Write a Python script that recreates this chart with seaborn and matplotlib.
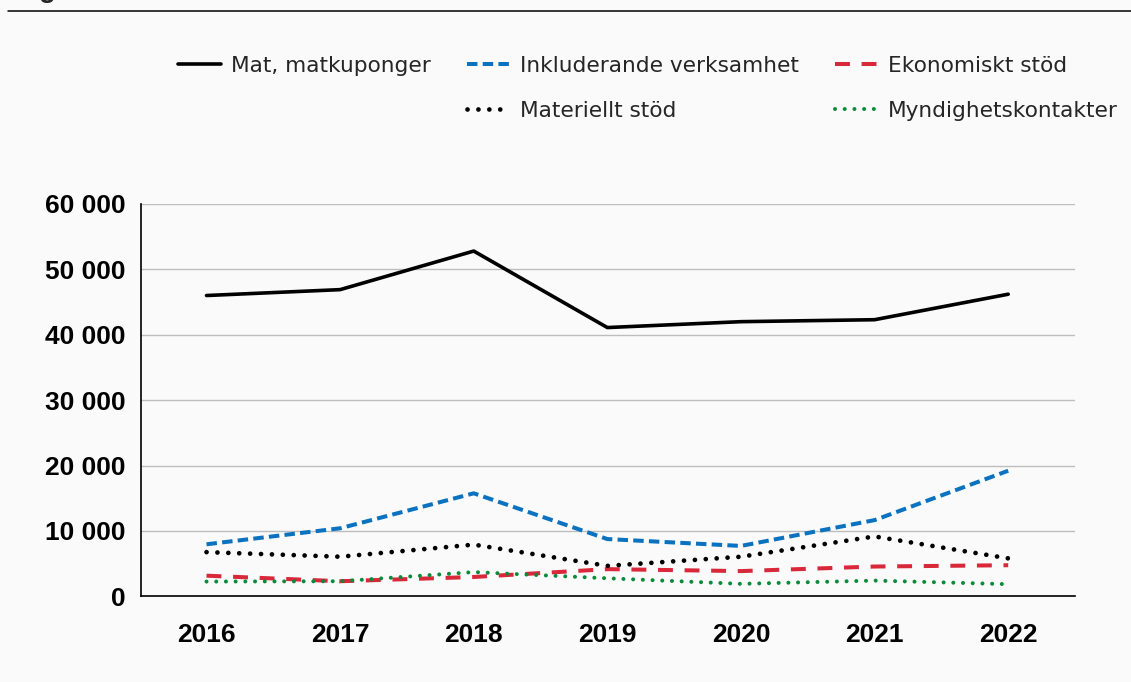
import matplotlib
matplotlib.use("Agg")
import matplotlib.pyplot as plt
import matplotlib.ticker as mticker
from matplotlib.lines import Line2D
import seaborn as sns

years = [2016, 2017, 2018, 2019, 2020, 2021, 2022]
mat = [46000, 46900, 52800, 41100, 42000, 42300, 46200]
inkluderande = [7950, 10400, 15750, 8750, 7700, 11650, 19200]
ekonomiskt = [3150, 2300, 2950, 4150, 3850, 4550, 4750]
materiellt = [6750, 6050, 7900, 4650, 6050, 9150, 5800]
myndighet = [2250, 2300, 3700, 2750, 1900, 2400, 1850]

labels = ["Mat, matkuponger", "Inkluderande verksamhet", "Ekonomiskt stöd",
          "Materiellt stöd", "Myndighetskontakter"]
yticks = [0, 10000, 20000, 30000, 40000, 50000, 60000]

sns.set_theme(style="white")
plt.rcParams['font.family'] = ['Liberation Sans', 'DejaVu Sans']

BG = "#fafafa"
fig = plt.figure(figsize=(11.31, 6.82), dpi=100, facecolor=BG)
ax = fig.add_axes([0.1247, 0.1257, 0.9505 - 0.1247, 0.7009 - 0.1257])
ax.set_facecolor(BG)

sns.lineplot(x=years, y=mat, ax=ax, color="black", lw=2.6,
             label=labels[0], solid_capstyle="round")
sns.lineplot(x=years, y=inkluderande, ax=ax, color="#0a72be", lw=2.9,
             dashes=(2.6, 1.3), label=labels[1])
sns.lineplot(x=years, y=ekonomiskt, ax=ax, color="#d9283a", lw=2.9,
             dashes=(3.7, 2.9), label=labels[2])
sns.lineplot(x=years, y=materiellt, ax=ax, color="black", lw=3.4,
             dashes=(0.01, 2.3), dash_capstyle="round", label=labels[3])
sns.lineplot(x=years, y=myndighet, ax=ax, color="#0a8a3a", lw=2.9,
             dashes=(0.01, 2.4), dash_capstyle="round", label=labels[4])

ax.set_xlim(2015.51, 2022.5)
ax.set_ylim(0, 60000)
ax.set_xticks(years)
ax.set_yticks(yticks)
ax.yaxis.set_major_formatter(mticker.FuncFormatter(lambda v, p: f"{int(v):,}".replace(",", " ")))
ax.grid(axis="y", color="#bdbdbd", lw=1.0)
ax.set_axisbelow(True)
for s in ["top", "right"]:
    ax.spines[s].set_visible(False)
for s in ["left", "bottom"]:
    ax.spines[s].set_color("black")
    ax.spines[s].set_linewidth(1.2)
ax.tick_params(axis="both", length=0, labelsize=19, colors="black")
ax.tick_params(axis="y", pad=11)
ax.tick_params(axis="x", pad=19)
for t in ax.get_xticklabels() + ax.get_yticklabels():
    t.set_fontweight("bold")
ax.set_xlabel("")
ax.set_ylabel("")

handles, labs = ax.get_legend_handles_labels()
ax.get_legend().remove()
blank = Line2D([], [], color="none")
order_h = [handles[0], blank, handles[1], handles[3], handles[2], handles[4]]
order_l = [labs[0], "", labs[1], labs[3], labs[2], labs[4]]
fig.legend(order_h, order_l, ncol=3, loc="upper left",
           bbox_to_anchor=(0.157, 0.918), frameon=False,
           prop={"family": ["DejaVu Sans"], "size": 15.6},
           handlelength=2.0, handletextpad=0.45, columnspacing=1.68,
           labelspacing=1.15, borderaxespad=0, borderpad=0)

fig.add_artist(Line2D([8 / 1131, 1], [1 - 10.5 / 682] * 2, color="black", lw=1.1,
                      transform=fig.transFigure))
fig.text(0.034, 1.0 + 3 / 682, "g", fontsize=20, fontweight="bold", va="baseline", ha="left")

fig.savefig("out.png", dpi=100, facecolor=BG)
